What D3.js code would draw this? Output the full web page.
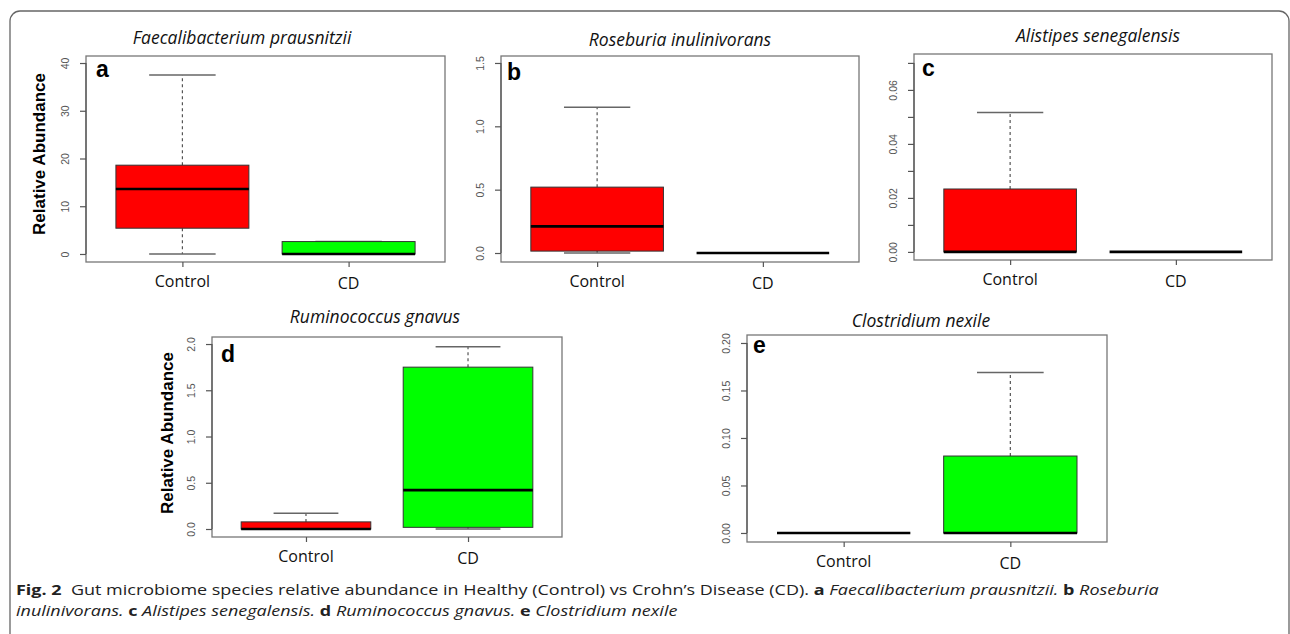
<!DOCTYPE html>
<meta charset="utf-8">
<style>
body { margin: 0; background: #fff; }
svg { display: block; }
.title { font-family: "Open Sans", sans-serif; font-style: italic; font-size: 17.5px; fill: #111; }
.letter { font-family: "Liberation Sans", Arial, sans-serif; font-weight: bold; font-size: 23px; fill: #000; }
.ylab { font-family: "Liberation Sans", Arial, sans-serif; font-weight: bold; font-size: 17px; fill: #000; }
.xlab { font-family: "Open Sans", sans-serif; font-size: 16px; fill: #111; }
.axis text { font-family: "Liberation Sans", Arial, sans-serif; font-size: 10.5px; fill: #555; }
.axis line, .axis path { stroke: #555; stroke-width: 1.2px; }
.caption { font-family: "Open Sans", sans-serif; font-size: 15px; fill: #222; white-space: pre; }
</style>
<svg width="1290" height="634"></svg>
<script src="https://d3js.org/d3.v7.min.js"></script>
<script>
var groups = ["Control", "CD"];
var groupColors = ["#ff0000", "#00ff00"];
var species = ["Faecalibacterium prausnitzii", "Roseburia inulinivorans", "Alistipes senegalensis",
               "Ruminococcus gnavus", "Clostridium nexile"];
var panelLetters = ["a", "b", "c", "d", "e"];

// five-number summaries: [min, q1, median, q3, max]
var controlStats = [
  [0, 5.4, 13.6, 18.6, 37.5],
  [0, 0.015, 0.21, 0.52, 1.15],
  [0, 0, 0, 0.0233, 0.0516],
  [0, 0, 0, 0.077, 0.17],
  [0, 0, 0, 0, 0]
];
var cdStats = [
  [0, 0, 0, 2.6, 2.6],
  [0, 0, 0, 0, 0],
  [0, 0, 0, 0, 0],
  [0, 0.018, 0.42, 1.75, 1.97],
  [0, 0, 0, 0.081, 0.169]
];

var yDomains = [[-1.68, 41.47], [-0.071, 1.555], [-0.003, 0.0733], [-0.0865, 2.076], [-0.0095, 0.2084]];
var yTickValues = [
  [0, 10, 20, 30, 40],
  [0, 0.5, 1.0, 1.5],
  [0, 0.01, 0.02, 0.03, 0.04, 0.05, 0.06, 0.07],
  [0, 0.5, 1.0, 1.5, 2.0],
  [0, 0.05, 0.10, 0.15, 0.20]
];
var yTickLabels = [
  ["0", "10", "20", "30", "40"],
  ["0.0", "0.5", "1.0", "1.5"],
  ["0.00", "", "0.02", "", "0.04", "", "0.06", ""],
  ["0.0", "0.5", "1.0", "1.5", "2.0"],
  ["0.00", "0.05", "0.10", "0.15", "0.20"]
];

// layout of each panel in page pixels
var layout = [
  {x0: 86,  x1: 445,  y0: 56,  y1: 262, tx: 242,  ty: 44,  lx: 96,  ly: 77,  ylab: [39, 154]},
  {x0: 501, x1: 859,  y0: 56,  y1: 262, tx: 680,  ty: 46,  lx: 507, ly: 80},
  {x0: 914, x1: 1272, y0: 54,  y1: 260, tx: 1098, ty: 42,  lx: 922, ly: 76},
  {x0: 212, x1: 562,  y0: 337, y1: 537, tx: 375,  ty: 323, lx: 221, ly: 362, ylab: [167, 433]},
  {x0: 747, x1: 1107, y0: 335, y1: 542, tx: 921,  ty: 327, lx: 753, ly: 353}
];

var svg = d3.select("svg");

// outer figure frame (open at the bottom)
svg.append("rect")
    .attr("x", 10).attr("y", 11)
    .attr("width", 1279).attr("height", 700)
    .attr("rx", 10)
    .attr("fill", "none")
    .attr("stroke", "#666")
    .attr("stroke-width", 1.3);

layout.forEach(function(L, i) {
  var g = svg.append("g");
  var x = d3.scaleLinear().domain([0.42, 2.58]).range([L.x0, L.x1]);
  var y = d3.scaleLinear().domain(yDomains[i]).range([L.y1, L.y0]);
  var stats = [controlStats[i], cdStats[i]];
  var boxW = x(0.8) - x(0), capW = x(0.4) - x(0);

  stats.forEach(function(s, k) {
    var cx = x(k + 1);
    // whiskers
    g.append("line")
        .attr("x1", cx).attr("x2", cx)
        .attr("y1", y(s[3])).attr("y2", y(s[4]))
        .attr("stroke", "#555").attr("stroke-width", 1.2)
        .attr("stroke-dasharray", "3,3");
    g.append("line")
        .attr("x1", cx).attr("x2", cx)
        .attr("y1", y(s[1])).attr("y2", y(s[0]))
        .attr("stroke", "#555").attr("stroke-width", 1.2)
        .attr("stroke-dasharray", "3,3");
    // caps
    [s[0], s[4]].forEach(function(v) {
      g.append("line")
          .attr("x1", cx - capW / 2).attr("x2", cx + capW / 2)
          .attr("y1", y(v)).attr("y2", y(v))
          .attr("stroke", "#666").attr("stroke-width", 1.5);
    });
    // box
    g.append("rect")
        .attr("x", cx - boxW / 2).attr("width", boxW)
        .attr("y", y(s[3])).attr("height", y(s[1]) - y(s[3]))
        .attr("fill", groupColors[k])
        .attr("stroke", "#333").attr("stroke-width", 1);
    // median
    g.append("line")
        .attr("x1", cx - boxW / 2).attr("x2", cx + boxW / 2)
        .attr("y1", y(s[2])).attr("y2", y(s[2]))
        .attr("stroke", "#000").attr("stroke-width", 2.6);
  });

  // plot frame
  g.append("rect")
      .attr("x", L.x0).attr("y", L.y0)
      .attr("width", L.x1 - L.x0).attr("height", L.y1 - L.y0)
      .attr("fill", "none")
      .attr("stroke", "#777").attr("stroke-width", 1.3);

  // y axis, R style: line only between first and last tick, labels parallel to axis
  var ticks = yTickValues[i];
  var ya = g.append("g")
      .attr("class", "axis")
      .attr("transform", "translate(" + L.x0 + ",0)")
      .call(d3.axisLeft(y).tickValues(ticks).tickSize(6).tickSizeOuter(0)
        .tickFormat(function(d, j) { return yTickLabels[i][j]; }));
  ya.select(".domain").attr("d", "M0," + y(ticks[0]) + "V" + y(ticks[ticks.length - 1]));
  ya.selectAll("text")
      .attr("x", null).attr("dy", null)
      .attr("text-anchor", "middle")
      .attr("transform", "translate(-17,0) rotate(-90)");

  // x axis ticks and labels
  var xa = g.append("g")
      .attr("class", "axis")
      .attr("transform", "translate(0," + L.y1 + ")")
      .call(d3.axisBottom(x).tickValues([1, 2]).tickSize(5).tickSizeOuter(0).tickFormat(""));
  xa.select(".domain").remove();
  groups.forEach(function(name, k) {
    g.append("text")
        .attr("class", "xlab")
        .attr("x", x(k + 1))
        .attr("y", L.y1 + 25 + k * 1.5)
        .attr("text-anchor", "middle")
        .text(name);
  });

  g.append("text")
      .attr("class", "title")
      .attr("x", L.tx).attr("y", L.ty)
      .attr("text-anchor", "middle")
      .text(species[i]);

  g.append("text")
      .attr("class", "letter")
      .attr("x", L.lx).attr("y", L.ly)
      .text(panelLetters[i]);

  if (L.ylab) {
    g.append("text")
        .attr("class", "ylab")
        .attr("text-anchor", "middle")
        .attr("transform", "translate(" + (L.ylab[0] + 6) + "," + L.ylab[1] + ") rotate(-90)")
        .text("Relative Abundance");
  }
});

// caption: [text, style] segments, b = bold, i = italic
var captionLines = [
  [["Fig. 2", "b"], ["  Gut microbiome species relative abundance in Healthy (Control) vs Crohn\u2019s Disease (CD). ", ""],
   ["a", "b"], [" Faecalibacterium prausnitzii.", "i"], [" ", ""], ["b", "b"], [" Roseburia", "i"]],
  [["inulinivorans.", "i"], [" ", ""], ["c", "b"], [" Alistipes senegalensis.", "i"], [" ", ""],
   ["d", "b"], [" Ruminococcus gnavus.", "i"], [" ", ""], ["e", "b"], [" Clostridium nexile", "i"]]
];
var capBase = [595, 616];
var capNodes = captionLines.map(function(segs, li) {
  var t = svg.append("text").attr("class", "caption");
  segs.forEach(function(s) {
    t.append("tspan")
        .style("font-weight", s[1] === "b" ? "bold" : null)
        .style("font-style", s[1] === "i" ? "italic" : null)
        .text(s[0]);
  });
  return t;
});
var sx = 1144 / capNodes[0].node().getComputedTextLength();
capNodes.forEach(function(t, li) {
  t.attr("transform", "translate(16," + capBase[li] + ") scale(" + sx + ",1)");
});
</script>
